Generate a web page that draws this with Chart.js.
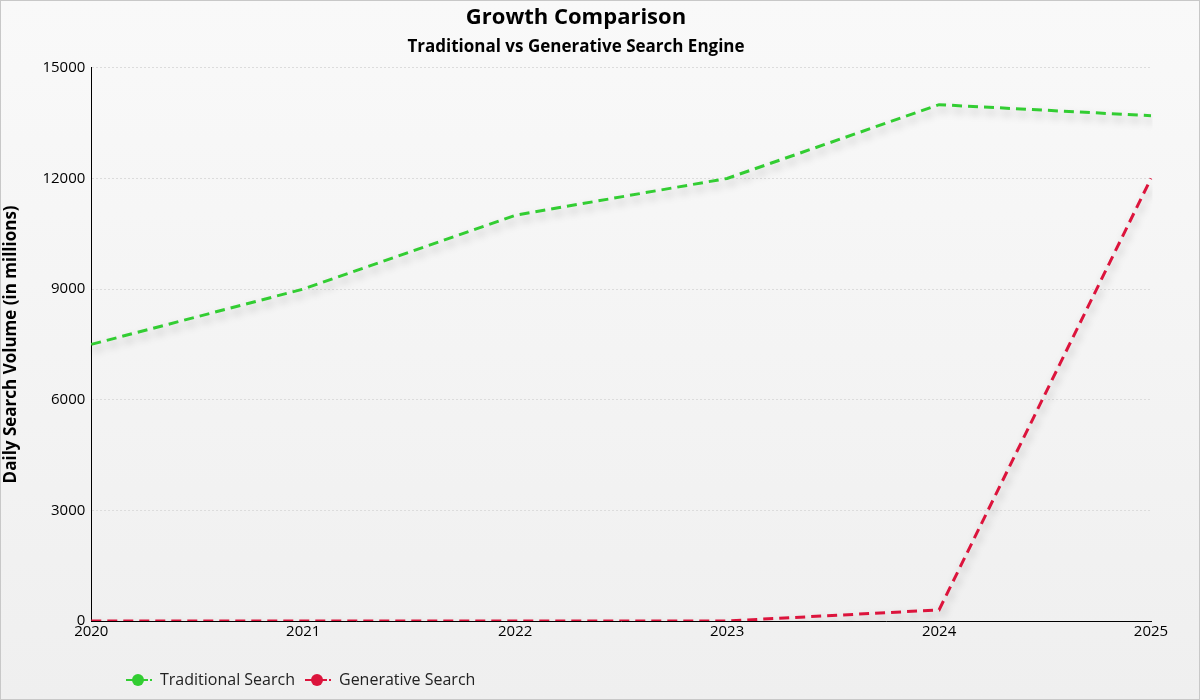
<!DOCTYPE html>
<html>
<head>
<meta charset="utf-8">
<script src="https://cdn.jsdelivr.net/npm/chart.js@4"></script>
<style>
  html, body { margin: 0; padding: 0; }
  #wrap {
    width: 1198px; height: 698px;
    border: 1px solid #c8c8c8;
    background: linear-gradient(to bottom, #f9f9f9, #efefef);
  }
</style>
</head>
<body>
<div id="wrap"><canvas id="growth-chart" width="1198" height="698"></canvas></div>
<script>
const years = ['2020', '2021', '2022', '2023', '2024', '2025']
const traditionalSearch = [7500, 9000, 11000, 12000, 14000, 13700]
const generativeSearch = [0, 0, 0, 0, 300, 12000]

// legend swatch: short line with a dot on it
const swatch = (color) => {
  const c = document.createElement('canvas')
  c.width = 26; c.height = 14
  const ctx = c.getContext('2d')
  ctx.strokeStyle = color
  ctx.lineWidth = 2
  ctx.setLineDash([22, 2])
  ctx.beginPath(); ctx.moveTo(0, 7); ctx.lineTo(26, 7); ctx.stroke()
  ctx.fillStyle = color
  ctx.beginPath(); ctx.arc(12, 7, 6, 0, Math.PI * 2); ctx.fill()
  return c
}

const lineShadow = {
  id: 'lineShadow',
  beforeDatasetDraw(chart) {
    const ctx = chart.ctx
    ctx.save()
    ctx.shadowColor = 'rgba(0,0,0,0.28)'
    ctx.shadowBlur = 9
    ctx.shadowOffsetX = 2
    ctx.shadowOffsetY = 5
  },
  afterDatasetDraw(chart) { chart.ctx.restore() }
}

// the legend sits under the plot, a bit in from the left edge
const legendShift = {
  id: 'legendShift',
  afterLayout(chart) {
    if (chart.legend) chart.legend.left += 115
  }
}

const font = "'Open Sans', 'Noto Sans', sans-serif"

new Chart(document.querySelector('#growth-chart'), {
  type: 'line',
  data: {
    labels: years,
    datasets: [{
      label: 'Traditional Search',
      data: traditionalSearch,
      borderColor: '#32cd32',
      backgroundColor: '#32cd32',
      borderWidth: 3,
      borderDash: [10, 6],
      pointRadius: 0,
      tension: 0
    }, {
      label: 'Generative Search',
      data: generativeSearch,
      borderColor: '#dc143c',
      backgroundColor: '#dc143c',
      borderWidth: 3,
      borderDash: [10, 6],
      pointRadius: 0,
      tension: 0
    }]
  },
  options: {
    responsive: false,
    animation: false,
    layout: { padding: { left: 0, right: 48, top: 0, bottom: 1 } },
    plugins: {
      title: {
        display: true,
        text: 'Growth Comparison',
        color: '#000',
        font: { family: font, size: 22, weight: 'bold' },
        padding: { top: 4, bottom: 6 }
      },
      subtitle: {
        display: true,
        text: 'Traditional vs Generative Search Engine',
        color: '#000',
        font: { family: font, size: 17, weight: 'bold' },
        padding: { bottom: 10 }
      },
      legend: {
        position: 'bottom',
        align: 'start',
        labels: {
          color: '#222',
          font: { family: font, size: 16 },
          usePointStyle: true,
          pointStyleWidth: 26,
          padding: 10,
          generateLabels(chart) {
            return chart.data.datasets.map((ds, i) => ({
              text: ds.label,
              pointStyle: swatch(ds.borderColor),
              fontColor: '#222',
              datasetIndex: i,
              hidden: !chart.isDatasetVisible(i)
            }))
          }
        }
      },
      tooltip: { enabled: false }
    },
    scales: {
      x: {
        offset: false,
        grid: { display: false, drawTicks: false },
        border: { color: '#000', width: 1 },
        ticks: { color: '#000', font: { family: font, size: 15 }, padding: 2, maxRotation: 0 },
        afterFit(scale) { scale.height += 19 }
      },
      y: {
        min: 0,
        max: 15000,
        ticks: {
          stepSize: 3000,
          color: '#000',
          font: { family: font, size: 15 },
          padding: 6,
          callback: (v) => String(v)
        },
        grid: { color: '#dcdcdc', drawTicks: false },
        border: { color: '#000', width: 1, dash: [2, 2] },
        title: {
          display: true,
          text: 'Daily Search Volume (in millions)',
          color: '#000',
          font: { family: font, size: 17, weight: 'bold' },
          padding: { top: 0, bottom: 15 }
        }
      }
    }
  },
  plugins: [lineShadow, legendShift]
})
</script>
</body>
</html>
